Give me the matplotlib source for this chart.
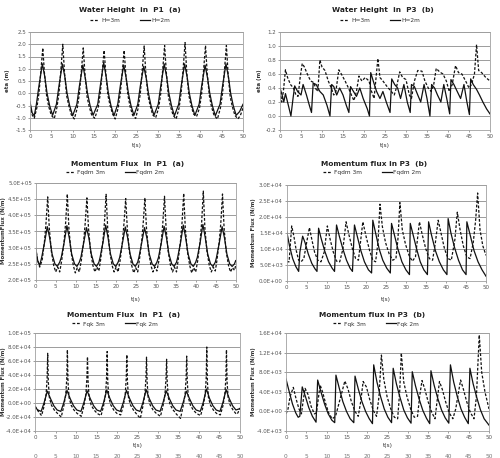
import matplotlib
matplotlib.use("Agg")
import matplotlib.pyplot as plt
from matplotlib.ticker import FuncFormatter

W, H = 500, 458

# ---- data (t in s) ----
# P1 water height (m)
t_eta_p1_3m = [0, 0.5, 1.0, 1.6, 2.1, 2.55, 3.0, 3.4, 3.9, 4.4, 5.0, 5.7,
               6.3, 6.8, 7.25, 7.7, 8.1, 8.6, 9.1, 9.7, 10.4,
               11.1, 11.6, 12.05, 12.5, 12.9, 13.4, 13.9, 14.5, 15.2,
               16.0, 16.5, 16.95, 17.4, 17.8, 18.3, 18.8, 19.4, 20.0,
               20.7, 21.2, 21.65, 22.1, 22.5, 23.0, 23.5, 24.1, 24.8,
               25.4, 25.9, 26.35, 26.8, 27.2, 27.7, 28.2, 28.8, 29.5,
               30.2, 30.7, 31.15, 31.6, 32.0, 32.5, 33.0, 33.6, 34.3,
               35.0, 35.5, 35.95, 36.4, 36.8, 37.3, 37.8, 38.4, 39.1,
               39.8, 40.3, 40.75, 41.2, 41.6, 42.1, 42.6, 43.2, 44.0,
               44.7, 45.2, 45.65, 46.1, 46.5, 47.0, 47.5, 48.1, 48.8, 49.4, 50.0]
eta_p1_3m = [-0.5, -0.88, -1.02, -0.6, 0.0, 0.9, 1.85, 0.8, -0.1, -0.55, -0.9, -1.03,
             -0.6, 0.0, 0.95, 2.0, 0.85, -0.1, -0.5, -0.88, -1.05,
             -0.6, 0.0, 0.9, 1.85, 0.8, -0.15, -0.55, -0.9, -1.02,
             -0.6, 0.0, 0.85, 1.75, 0.8, -0.1, -0.5, -0.85, -1.05,
             -0.6, 0.0, 0.85, 1.75, 0.75, -0.1, -0.55, -0.9, -1.03,
             -0.6, 0.0, 0.95, 1.93, 0.8, -0.1, -0.5, -0.88, -1.0,
             -0.6, 0.0, 0.95, 1.95, 0.85, -0.15, -0.55, -0.9, -1.05,
             -0.6, 0.05, 1.0, 2.07, 0.85, -0.1, -0.5, -0.85, -0.95,
             -0.6, 0.0, 0.95, 1.95, 0.8, -0.1, -0.55, -0.9, -1.05,
             -0.6, 0.0, 0.95, 1.95, 0.8, -0.15, -0.55, -0.9, -1.05, -0.9, -0.6]
t_eta_p1_2m = [0, 0.5, 1.0, 1.5, 2.1, 2.9, 3.5, 4.0, 4.6, 5.3,
               6.2, 6.8, 7.6, 8.2, 8.7, 9.3, 10.0,
               11.0, 11.6, 12.4, 13.0, 13.5, 14.1, 14.8,
               15.9, 16.5, 17.3, 17.9, 18.4, 19.0, 19.7,
               20.6, 21.2, 22.0, 22.6, 23.1, 23.7, 24.4,
               25.3, 25.9, 26.7, 27.3, 27.8, 28.4, 29.1,
               30.1, 30.7, 31.5, 32.1, 32.6, 33.2, 33.9,
               34.9, 35.5, 36.3, 36.9, 37.4, 38.0, 38.7,
               39.7, 40.3, 41.1, 41.7, 42.2, 42.8, 43.5,
               44.6, 45.2, 46.0, 46.6, 47.1, 47.7, 48.4, 49.2, 50.0]
eta_p1_2m = [-0.35, -0.8, -0.92, -0.45, 0.3, 1.2, 0.65, 0.0, -0.5, -0.9,
             -0.45, 0.3, 1.2, 0.65, 0.0, -0.5, -0.92,
             -0.45, 0.3, 1.15, 0.6, 0.0, -0.5, -0.9,
             -0.45, 0.3, 1.25, 0.65, 0.0, -0.5, -0.92,
             -0.45, 0.3, 1.15, 0.6, 0.0, -0.5, -0.9,
             -0.45, 0.3, 1.1, 0.6, 0.0, -0.5, -0.9,
             -0.45, 0.3, 1.2, 0.65, 0.0, -0.5, -0.92,
             -0.45, 0.3, 1.2, 0.65, 0.0, -0.5, -0.9,
             -0.45, 0.3, 1.15, 0.6, 0.0, -0.5, -0.92,
             -0.45, 0.3, 1.2, 0.65, 0.0, -0.5, -0.9, -0.75, -0.45]

# P3 water height (m)
t_eta_p3_3m = [0, 0.4, 0.8, 1.3, 1.8, 2.5, 3.2, 3.8, 4.3, 4.8, 5.3, 5.8, 6.5, 7.3, 8.0,
               8.6, 9.0, 9.5, 10.0, 10.7, 11.5, 12.2, 12.8, 13.3, 14.0, 14.6, 15.5,
               16.3, 17.0, 17.6, 18.2, 18.8, 19.5, 20.3, 21.2, 21.8, 22.4, 23.3, 23.8,
               24.5, 25.5, 26.5, 27.2, 27.7, 28.5, 29.2, 30.0, 30.8, 31.3, 32.0, 32.8,
               33.8, 34.5, 35.3, 36.0, 36.6, 37.2, 38.0, 38.8, 39.6, 40.3, 41.0, 41.8,
               42.5, 43.3, 44.2, 45.0, 45.6, 46.3, 46.8, 47.3, 48.0, 49.0, 50.0]
eta_p3_3m = [0.35, 0.2, 0.35, 0.66, 0.55, 0.45, 0.4, 0.3, 0.28, 0.55, 0.75, 0.7, 0.6, 0.5, 0.48,
             0.38, 0.35, 0.8, 0.7, 0.65, 0.5, 0.4, 0.3, 0.35, 0.66, 0.6, 0.5,
             0.4, 0.3, 0.22, 0.35, 0.57, 0.5, 0.55, 0.5, 0.35, 0.25, 0.82, 0.55,
             0.5, 0.42, 0.35, 0.3, 0.4, 0.63, 0.55, 0.52, 0.3, 0.25, 0.5, 0.65,
             0.64, 0.5, 0.4, 0.35, 0.45, 0.68, 0.63, 0.6, 0.5, 0.35, 0.45, 0.72,
             0.62, 0.6, 0.5, 0.4, 0.45, 0.6, 1.02, 0.65, 0.62, 0.55, 0.5]
t_eta_p3_2m = [0, 0.5, 0.9, 1.3, 2.0, 2.6, 3.1, 3.5, 4.2, 5.0, 5.5, 6.3, 7.0, 7.5, 7.9,
               8.6, 9.5, 10.3, 11.2, 11.9, 12.3, 12.8, 13.5, 14.2, 15.0, 15.8, 16.4,
               16.8, 17.5, 18.2, 19.0, 19.8, 20.8, 21.3, 21.6, 22.2, 23.0, 23.8, 24.5,
               25.3, 26.2, 26.6, 27.3, 28.0, 28.7, 29.5, 30.3, 31.0, 31.3, 32.0, 32.8,
               33.5, 34.3, 35.0, 35.7, 36.1, 36.8, 37.5, 38.3, 39.0, 39.7, 40.4, 40.7,
               41.4, 42.2, 43.0, 43.8, 44.5, 45.1, 45.4, 46.0, 46.8, 47.5, 48.3, 49.2, 50.0]
eta_p3_2m = [0.4, 0.3, 0.2, 0.32, 0.15, 0.0, 0.25, 0.43, 0.35, 0.3, 0.45, 0.3, 0.15, 0.05, 0.47,
             0.45, 0.35, 0.3, 0.15, 0.0, 0.45, 0.42, 0.3, 0.4, 0.3, 0.15, 0.05,
             0.42, 0.35, 0.28, 0.4, 0.25, 0.1, 0.0, 0.62, 0.5, 0.35, 0.25, 0.35,
             0.2, 0.05, 0.53, 0.45, 0.4, 0.25, 0.45, 0.2, 0.05, 0.45, 0.42, 0.3,
             0.2, 0.45, 0.25, 0.0, 0.45, 0.4, 0.3, 0.2, 0.45, 0.25, 0.03, 0.52,
             0.45, 0.35, 0.25, 0.45, 0.2, 0.02, 0.53, 0.45, 0.38, 0.3, 0.2, 0.1, 0.03]

# P1 momentum flux Fqdm (x1E+05 N/m)
t_fqdm_p1_3m = [0, 0.5, 1.0,
                1.6, 2.2, 2.6, 3.0, 3.4, 3.9, 4.5, 5.0, 5.5, 6.0,
                6.5, 7.1, 7.5, 7.9, 8.3, 8.8, 9.4, 9.9, 10.4, 10.9,
                11.4, 12.0, 12.4, 12.8, 13.2, 13.7, 14.3, 14.8, 15.3, 15.8,
                16.2, 16.8, 17.2, 17.6, 18.0, 18.5, 19.1, 19.6, 20.1, 20.6,
                21.1, 21.7, 22.1, 22.5, 22.9, 23.4, 24.0, 24.5, 25.0, 25.5,
                25.9, 26.5, 26.9, 27.3, 27.7, 28.2, 28.8, 29.3, 29.8, 30.3,
                30.8, 31.4, 31.8, 32.2, 32.6, 33.1, 33.7, 34.2, 34.7, 35.2,
                35.6, 36.2, 36.6, 37.0, 37.4, 37.9, 38.5, 39.0, 39.5, 40.0,
                40.5, 41.1, 41.5, 41.9, 42.3, 42.8, 43.4, 43.9, 44.4, 44.9,
                45.3, 45.9, 46.3, 46.7, 47.1, 47.6, 48.2, 48.7, 49.2, 49.7, 50.0]
fqdm_p1_3m = [3.0, 2.6, 2.4,
              2.6, 3.2, 3.8, 4.57, 3.6, 2.9, 2.45, 2.25, 2.4, 2.25,
              2.6, 3.2, 3.8, 4.66, 3.6, 2.9, 2.45, 2.22, 2.38, 2.25,
              2.6, 3.2, 3.8, 4.54, 3.6, 2.9, 2.45, 2.25, 2.4, 2.28,
              2.6, 3.2, 3.8, 4.65, 3.6, 2.9, 2.45, 2.25, 2.4, 2.25,
              2.6, 3.2, 3.8, 4.52, 3.6, 2.9, 2.45, 2.22, 2.38, 2.25,
              2.6, 3.2, 3.8, 4.54, 3.6, 2.9, 2.45, 2.25, 2.4, 2.28,
              2.6, 3.2, 3.8, 4.59, 3.6, 2.9, 2.45, 2.25, 2.4, 2.25,
              2.6, 3.2, 3.8, 4.68, 3.6, 2.9, 2.45, 2.22, 2.38, 2.25,
              2.6, 3.2, 3.8, 4.75, 3.6, 2.9, 2.45, 2.25, 2.4, 2.28,
              2.6, 3.2, 3.8, 4.66, 3.6, 2.9, 2.45, 2.25, 2.38, 2.3, 2.45]
t_fqdm_p1_2m = [0, 0.5, 1.0,
                1.5, 2.2, 2.9, 3.5, 4.1, 4.8, 5.4, 6.0,
                6.4, 7.1, 7.8, 8.4, 9.0, 9.7, 10.3, 10.9,
                11.3, 12.0, 12.7, 13.3, 13.9, 14.6, 15.2, 15.8,
                16.1, 16.8, 17.5, 18.1, 18.7, 19.4, 20.0, 20.6,
                21.0, 21.7, 22.4, 23.0, 23.6, 24.3, 24.9, 25.5,
                25.8, 26.5, 27.2, 27.8, 28.4, 29.1, 29.7, 30.3,
                30.7, 31.4, 32.1, 32.7, 33.3, 34.0, 34.6, 35.2,
                35.5, 36.2, 36.9, 37.5, 38.1, 38.8, 39.4, 40.0,
                40.4, 41.1, 41.8, 42.4, 43.0, 43.7, 44.3, 44.9,
                45.2, 45.9, 46.6, 47.2, 47.8, 48.5, 49.1, 49.7, 50.0]
fqdm_p1_2m = [2.95, 2.6, 2.45,
              2.7, 3.15, 3.65, 3.3, 2.8, 2.5, 2.42, 2.55,
              2.7, 3.15, 3.68, 3.3, 2.8, 2.5, 2.42, 2.55,
              2.7, 3.15, 3.62, 3.3, 2.8, 2.5, 2.42, 2.55,
              2.7, 3.15, 3.7, 3.3, 2.8, 2.5, 2.42, 2.55,
              2.7, 3.15, 3.64, 3.3, 2.8, 2.5, 2.42, 2.55,
              2.7, 3.15, 3.62, 3.3, 2.8, 2.5, 2.42, 2.55,
              2.7, 3.15, 3.66, 3.3, 2.8, 2.5, 2.42, 2.55,
              2.7, 3.15, 3.7, 3.3, 2.8, 2.5, 2.42, 2.55,
              2.7, 3.15, 3.72, 3.3, 2.8, 2.5, 2.42, 2.55,
              2.7, 3.15, 3.65, 3.3, 2.8, 2.5, 2.42, 2.5, 2.6]

# P3 momentum flux Fqdm (x1E+04 N/m)
t_fqdm_p3_3m = [0, 0.6, 1.25, 1.8, 2.4, 3.0, 3.6, 4.3, 5.0, 5.7, 6.3, 7.0, 7.8, 8.6,
                9.4, 10.2, 10.9, 11.7, 12.5, 13.3, 14.1, 14.9, 15.6, 16.5, 17.3, 18.0,
                18.5, 19.1, 19.9, 20.8, 21.6, 22.3, 22.9, 23.4, 24.0, 24.8, 25.7, 26.6,
                27.4, 27.9, 28.4, 29.0, 29.8, 30.7, 31.5, 32.3, 33.3, 34.0, 34.9, 35.8,
                36.6, 37.3, 38.0, 38.8, 39.6, 40.5, 41.3, 42.2, 42.8, 43.5, 44.3, 45.2,
                46.0, 46.8, 47.4, 47.9, 48.5, 49.2, 50.0]
fqdm_p3_3m = [0.6, 0.6, 1.72, 1.4, 0.95, 0.65, 0.6, 0.7, 1.2, 1.67, 1.3, 0.9, 0.65, 0.6,
              0.9, 1.72, 1.3, 0.9, 0.62, 0.6, 1.0, 1.85, 1.45, 1.0, 0.7, 0.65,
              1.2, 1.85, 1.4, 0.95, 0.65, 0.6, 1.2, 2.4, 1.7, 1.2, 0.85, 0.65,
              0.7, 1.3, 2.45, 1.6, 1.15, 0.8, 0.62, 0.75, 1.85, 1.45, 1.0, 0.7,
              0.65, 1.2, 1.9, 1.45, 1.0, 0.7, 0.65, 1.3, 2.15, 1.6, 1.1, 0.75,
              0.7, 1.2, 1.9, 2.75, 1.6, 1.1, 0.8]
t_fqdm_p3_2m = [0, 0.7, 1.5, 2.3, 3.0, 3.3, 4.0, 4.6, 5.4, 6.3, 7.1, 7.6,
                8.0, 8.6, 9.5, 10.5, 11.4, 12.0, 12.5, 13.2, 14.1, 15.0, 15.9, 16.5,
                17.0, 17.7, 18.6, 19.5, 20.5, 21.3, 21.6, 22.3, 23.2, 24.1, 25.1, 26.0,
                26.3, 27.0, 27.9, 28.9, 29.9, 30.8, 31.0, 31.7, 32.6, 33.5, 34.4, 35.3,
                35.6, 36.3, 37.3, 38.3, 39.3, 40.2, 40.5, 41.2, 42.1, 43.1, 44.1, 45.0,
                45.2, 46.0, 47.0, 48.0, 49.0, 50.0]
fqdm_p3_2m = [1.55, 1.1, 0.7, 0.45, 0.3, 0.9, 1.4, 1.2, 0.85, 0.55, 0.38, 0.3,
              1.65, 1.35, 0.95, 0.6, 0.4, 0.3, 1.75, 1.4, 1.0, 0.65, 0.4, 0.3,
              1.75, 1.4, 0.95, 0.6, 0.35, 0.25, 1.9, 1.5, 1.0, 0.65, 0.4, 0.25,
              1.8, 1.45, 1.0, 0.6, 0.35, 0.2, 1.8, 1.45, 1.0, 0.6, 0.35, 0.2,
              1.85, 1.45, 0.95, 0.6, 0.35, 0.2, 1.95, 1.5, 1.05, 0.65, 0.35, 0.2,
              1.85, 1.45, 0.95, 0.6, 0.35, 0.15]

# P1 momentum flux Fqk (x1E+04 N/m)
t_fqk_p1_3m = [0, 0.8,
               1.6, 2.2, 2.7, 2.95, 3.1, 3.25, 3.5, 4.0, 4.7, 5.5,
               6.4, 7.0, 7.5, 7.75, 7.9, 8.05, 8.3, 8.8, 9.5, 10.3,
               11.3, 11.9, 12.4, 12.65, 12.8, 12.95, 13.2, 13.7, 14.4, 15.2,
               16.1, 16.7, 17.2, 17.45, 17.6, 17.75, 18.0, 18.5, 19.2, 20.0,
               20.9, 21.5, 22.0, 22.25, 22.4, 22.55, 22.8, 23.3, 24.0, 24.8,
               25.7, 26.3, 26.8, 27.05, 27.2, 27.35, 27.6, 28.1, 28.8, 29.6,
               30.6, 31.2, 31.7, 31.95, 32.1, 32.25, 32.5, 33.0, 33.7, 34.5,
               35.5, 36.1, 36.6, 36.85, 37.0, 37.15, 37.4, 37.9, 38.6, 39.4,
               40.4, 41.0, 41.5, 41.75, 41.9, 42.05, 42.3, 42.8, 43.5, 44.3,
               45.2, 45.8, 46.3, 46.55, 46.7, 46.85, 47.1, 47.6, 48.3, 49.1, 49.5, 50.0]
fqk_p1_3m = [-0.4, -1.2,
             -1.8, -0.5, 1.2, 3.5, 7.1, 3.0, 0.8, -0.3, -1.0, -1.5,
             -2.0, -0.5, 1.2, 3.5, 7.6, 3.0, 0.8, -0.3, -1.0, -1.5,
             -1.9, -0.5, 1.2, 3.5, 6.6, 3.0, 0.8, -0.3, -1.0, -1.5,
             -1.8, -0.5, 1.2, 3.5, 7.35, 3.0, 0.8, -0.3, -1.0, -1.5,
             -1.7, -0.5, 1.2, 3.5, 6.9, 3.0, 0.8, -0.3, -1.0, -1.6,
             -2.2, -0.5, 1.2, 3.5, 6.55, 3.0, 0.8, -0.3, -1.0, -1.5,
             -1.9, -0.5, 1.2, 3.5, 6.25, 3.0, 0.8, -0.3, -1.0, -1.6,
             -2.2, -0.5, 1.2, 3.5, 6.7, 3.0, 0.8, -0.3, -1.0, -1.5,
             -1.8, -0.5, 1.2, 3.5, 8.0, 3.0, 0.8, -0.3, -1.0, -1.5,
             -1.7, -0.5, 1.2, 3.5, 7.6, 3.0, 0.8, -0.3, -1.0, -1.6, -1.4, -0.7]
t_fqk_p1_2m = [0, 0.7,
               1.5, 2.2, 3.0, 3.8, 4.6, 5.4,
               6.3, 7.0, 7.8, 8.6, 9.4, 10.2,
               11.2, 11.9, 12.7, 13.5, 14.3, 15.1,
               16.0, 16.7, 17.5, 18.3, 19.1, 19.9,
               20.8, 21.5, 22.3, 23.1, 23.9, 24.7,
               25.6, 26.3, 27.1, 27.9, 28.7, 29.5,
               30.5, 31.2, 32.0, 32.8, 33.6, 34.4,
               35.4, 36.1, 36.9, 37.7, 38.5, 39.3,
               40.3, 41.0, 41.8, 42.6, 43.4, 44.2,
               45.1, 45.8, 46.6, 47.4, 48.2, 49.0, 50.0]
fqk_p1_2m = [-0.6, -1.0,
             -1.2, 0.0, 1.7, 0.6, -0.4, -1.0,
             -1.2, 0.0, 1.8, 0.6, -0.4, -1.0,
             -1.2, 0.0, 1.75, 0.6, -0.4, -1.0,
             -1.2, 0.0, 1.85, 0.6, -0.4, -1.0,
             -1.2, 0.0, 1.8, 0.6, -0.4, -1.0,
             -1.2, 0.0, 1.9, 0.6, -0.4, -1.0,
             -1.2, 0.0, 1.75, 0.6, -0.4, -1.0,
             -1.2, 0.0, 1.7, 0.6, -0.4, -1.0,
             -1.2, 0.0, 2.0, 0.6, -0.4, -1.0,
             -1.2, 0.0, 1.9, 0.6, -0.4, -1.0, -0.8]

# P3 momentum flux Fqk (x1E+03 N/m)
t_fqk_p3_3m = [0, 0.5, 1.0, 1.8, 2.5, 3.2, 3.8, 4.2, 4.7, 5.4, 6.2, 7.0, 7.5, 8.4,
               9.0, 9.8, 10.6, 11.4, 12.2, 13.0, 14.5, 15.3, 16.1, 17.0, 17.8, 18.4,
               19.0, 19.8, 20.6, 21.5, 22.3, 22.9, 23.5, 24.1, 24.9, 25.8, 26.7, 27.5,
               28.0, 28.4, 29.0, 29.8, 30.7, 31.6, 32.4, 32.9, 33.5, 34.2, 35.0, 35.9,
               36.7, 37.2, 37.8, 38.5, 39.3, 40.2, 41.1, 41.8, 43.0, 43.7, 44.5, 45.4,
               46.3, 46.9, 47.6, 48.2, 49.0, 50.0]
fqk_p3_3m = [-0.5, 0.5, 3.0, 4.9, 2.5, 0.5, -0.5, 2.0, 4.7, 3.5, 1.0, -0.5, -0.3, 5.4,
             4.0, 1.5, -0.5, -1.5, -1.0, 1.5, 6.2, 4.5, 2.0, 0.0, -1.0, 2.0,
             6.1, 5.0, 2.5, 0.2, -1.0, 3.0, 11.5, 6.5, 3.0, 0.5, -1.2, -1.5,
             4.0, 11.9, 6.0, 3.0, 0.5, -1.2, -1.0, 3.0, 6.3, 4.5, 2.0, -0.2,
             -1.5, 2.0, 6.1, 4.5, 2.0, -0.3, -1.5, 0.5, 6.4, 4.5, 2.0, -0.2,
             -1.5, 3.0, 15.6, 8.0, 4.0, 0.5]
t_fqk_p3_2m = [0, 0.8, 1.6, 2.4, 3.0, 3.4, 4.0, 4.8, 5.6, 6.5, 7.4,
               7.8, 8.6, 9.5, 10.4, 11.3, 12.0, 12.3, 13.1, 14.0, 14.9, 15.8, 16.7,
               17.0, 17.8, 18.7, 19.6, 20.5, 21.3, 21.6, 22.4, 23.3, 24.2, 25.1, 26.0,
               26.4, 27.2, 28.1, 29.0, 29.9, 30.8, 31.1, 31.9, 32.8, 33.7, 34.6, 35.4,
               35.7, 36.5, 37.4, 38.3, 39.2, 40.1, 40.5, 41.3, 42.2, 43.1, 44.0, 44.9,
               45.3, 46.1, 47.0, 47.9, 48.8, 50.0]
fqk_p3_2m = [6.6, 4.0, 1.5, -0.3, -1.2, -1.0, 5.0, 3.0, 0.8, -1.0, -2.2,
             6.4, 4.0, 1.5, -0.5, -1.8, -2.3, 7.4, 4.8, 2.0, 0.0, -1.5, -2.3,
             7.2, 4.6, 2.0, 0.0, -1.5, -2.5, 9.5, 6.0, 3.0, 0.5, -1.2, -2.3,
             8.8, 5.6, 2.8, 0.3, -1.3, -2.4, 8.1, 5.2, 2.5, 0.2, -1.4, -2.5,
             8.3, 5.3, 2.6, 0.3, -1.3, -2.4, 9.5, 6.0, 3.0, 0.5, -1.2, -2.5,
             8.8, 5.6, 2.8, 0.3, -1.5, -2.8]

x_ticks = list(range(0, 51, 5))

# ---- layout helpers (pixel coords of the 500x458 picture) ----
fig = plt.figure(figsize=(W / 100, H / 100), dpi=100)
fig.patch.set_facecolor("white")

def fx(px):
    return px / W

def fy(py):
    return 1 - py / H

LINE = "#111111"
GRID = "#8c8c8c"
TXT = "#555555"
FS = 4.0


def panel(box, title, title_xy, leg_labels, leg_xy, ylabel, ylab_xy, xlab_y,
          series, ylim, ystep, fmt):
    x0, x1, y0, y1 = box
    ax = fig.add_axes([fx(x0), fy(y1), fx(x1 - x0), (y1 - y0) / H])
    (t3, v3), (t2, v2) = series
    h3, = ax.plot(t3, v3, color=LINE, lw=0.9, dashes=(2.2, 1.4))
    h2, = ax.plot(t2, v2, color=LINE, lw=0.9)
    ax.set_xlim(0, 50)
    ax.set_ylim(*ylim)
    ax.set_xticks(x_ticks)
    yt = []
    v = ylim[0]
    while v <= ylim[1] + ystep * 0.01:
        yt.append(v)
        v += ystep
    ax.set_yticks(yt)
    ax.yaxis.set_major_formatter(FuncFormatter(fmt))
    ax.grid(axis="y", color=GRID, lw=0.6)
    ax.set_axisbelow(True)
    for s in ax.spines.values():
        s.set_color("#a0a0a0")
        s.set_linewidth(0.6)
    ax.tick_params(labelsize=FS, colors=TXT, length=1.5, width=0.4, pad=1.2)
    fig.text(fx(title_xy[0]), fy(title_xy[1]), title, fontsize=5.3,
             fontweight="bold", ha="center", va="center", color="#222222")
    ax.legend([h3, h2], leg_labels, loc="center", ncol=2, frameon=False,
              fontsize=FS + 0.2, handlelength=1.6, handletextpad=0.3, columnspacing=3.5,
              bbox_to_anchor=(fx(leg_xy[0]), fy(leg_xy[1])),
              bbox_transform=fig.transFigure, labelcolor="#333333")
    fig.text(fx(ylab_xy[0]), fy(ylab_xy[1]), ylabel, rotation=90, fontsize=FS,
             fontweight="bold", ha="center", va="center", color="#333333")
    fig.text(fx((x0 + x1) / 2), fy(xlab_y), "t(s)", fontsize=FS + 0.2,
             ha="center", va="center", color="#333333")
    return ax


def f1(v, p):
    return f"{v:.1f}"


def fe(v, p):
    return f"{v:.1E}"


panel((30, 243, 32, 130), "Water Height  in  P1  (a)", (130, 10),
      ["H=3m", "H=2m"], (130, 20), "eta (m)", (7, 81), 146,
      [(t_eta_p1_3m, eta_p1_3m), (t_eta_p1_2m, eta_p1_2m)],
      (-1.5, 2.5), 0.5, f1)

panel((280, 490, 32, 130), "Water Height  in  P3  (b)", (383, 10),
      ["H=3m", "H=2m"], (380, 20), "eta (m)", (259, 81), 146,
      [(t_eta_p3_3m, eta_p3_3m), (t_eta_p3_2m, eta_p3_2m)],
      (-0.2, 1.2), 0.2, f1)

panel((35.7, 235.7, 183, 280), "Momentum Flux  in  P1  (a)", (128, 164),
      ["Fqdm 3m", "Fqdm 2m"], (115, 172), "MomentumFlux (N/m)", (4, 231), 299,
      [(t_fqdm_p1_3m, [v * 1e5 for v in fqdm_p1_3m]),
       (t_fqdm_p1_2m, [v * 1e5 for v in fqdm_p1_2m])],
      (2.0e5, 5.0e5), 0.5e5, fe)

panel((286.7, 486, 185, 281), "Momentum flux in P3  (b)", (374, 164),
      ["Fqdm 3m", "Fqdm 2m"], (372, 172), "Momentum Flux (N/m)", (254, 233), 299,
      [(t_fqdm_p3_3m, [v * 1e4 for v in fqdm_p3_3m]),
       (t_fqdm_p3_2m, [v * 1e4 for v in fqdm_p3_2m])],
      (0, 3.0e4), 0.5e4, fe)

panel((35, 240, 333, 431), "Momentum Flux  in  P1  (a)", (124, 315),
      ["Fqk 3m", "Fqk 2m"], (115, 324), "Momentum Flux (N/m)", (4, 382), 446,
      [(t_fqk_p1_3m, [v * 1e4 for v in fqk_p1_3m]),
       (t_fqk_p1_2m, [v * 1e4 for v in fqk_p1_2m])],
      (-4.0e4, 1.0e5), 2.0e4, fe)

panel((286, 489, 333, 431), "Momentum flux in P3  (b)", (372, 315),
      ["Fqk 3m", "Fqk 2m"], (376, 324), "Momentum Flux (N/m)", (254, 382), 446,
      [(t_fqk_p3_3m, [v * 1e3 for v in fqk_p3_3m]),
       (t_fqk_p3_2m, [v * 1e3 for v in fqk_p3_2m])],
      (-4.0e3, 1.6e4), 4.0e3, fe)

# cut-off tick row of the next charts at the bottom edge
for x0, x1 in [(35, 240), (286, 489)]:
    for tk in x_ticks:
        fig.text(fx(x0 + (x1 - x0) * tk / 50), fy(454.5), str(tk), fontsize=FS + 0.2,
                 ha="center", va="top", color="#777777")

fig.savefig("out.png", dpi=100, facecolor="white")
